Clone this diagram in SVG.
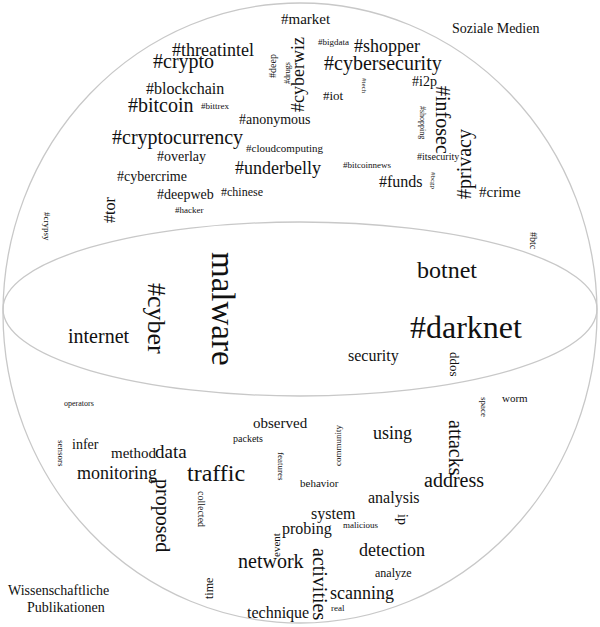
<svg xmlns="http://www.w3.org/2000/svg" width="600" height="627" viewBox="0 0 600 627">
<style>
text{font-family:"Liberation Serif","Times New Roman",serif;fill:#111}
.o{fill:none;stroke:#c8c8c8;stroke-width:1.3}
</style>
<rect width="600" height="627" fill="#fff"/>
<g id="sphere">
<ellipse class="o" cx="300" cy="313" rx="297" ry="310"/>
<ellipse class="o" cx="300" cy="309" rx="297" ry="87"/>
</g>
<g id="labels">
<text x="452" y="33" font-size="14">Soziale Medien</text>
<text x="8" y="595" font-size="14">Wissenschaftliche</text>
<text x="27" y="612" font-size="14">Publikationen</text>
</g>
<g id="social">
<text x="281" y="24" font-size="15">#market</text>
<text x="172" y="56" font-size="18">#threatintel</text>
<text x="153" y="68" font-size="20">#crypto</text>
<text x="318" y="45" font-size="9">#bigdata</text>
<text x="354" y="52" font-size="18">#shopper</text>
<text x="324" y="70" font-size="20">#cybersecurity</text>
<text x="412" y="86" font-size="14">#i2p</text>
<text x="323" y="100" font-size="13">#iot</text>
<text x="146" y="94" font-size="16">#blockchain</text>
<text x="128" y="112" font-size="20">#bitcoin</text>
<text x="201" y="109" font-size="9">#bittrex</text>
<text x="239" y="124" font-size="14">#anonymous</text>
<text x="112" y="144" font-size="20">#cryptocurrency</text>
<text x="246" y="152" font-size="11">#cloudcomputing</text>
<text x="157" y="161" font-size="14">#overlay</text>
<text x="235" y="174" font-size="18">#underbelly</text>
<text x="343" y="168" font-size="9">#bitcoinnews</text>
<text x="417" y="160" font-size="10">#itsecurity</text>
<text x="117" y="181" font-size="14">#cybercrime</text>
<text x="379" y="187" font-size="16">#funds</text>
<text x="479" y="197" font-size="15">#crime</text>
<text x="157" y="199" font-size="14">#deepweb</text>
<text x="221" y="196" font-size="12">#chinese</text>
<text x="175" y="213" font-size="9">#hacker</text>
<text transform="translate(276,78) rotate(-90)" font-size="10">#deep</text>
<text transform="translate(290,84) rotate(-90)" font-size="8">#drugs</text>
<text transform="translate(304,112) rotate(-90)" font-size="18">#cyberwiz</text>
<text transform="translate(362,78) rotate(90)" font-size="7">#tech</text>
<text transform="translate(420,106) rotate(90)" font-size="8">#shopping</text>
<text transform="translate(436,86) rotate(90)" font-size="20">#infosec</text>
<text transform="translate(431,172) rotate(90)" font-size="7">#bcgp</text>
<text transform="translate(471,199) rotate(-90)" font-size="20">#privacy</text>
<text transform="translate(115,223) rotate(-90)" font-size="16">#tor</text>
<text transform="translate(44,212) rotate(90)" font-size="9">#crypsy</text>
<text transform="translate(530,232) rotate(90)" font-size="10">#btc</text>
</g>
<g id="equator">
<text transform="translate(212,252) rotate(90)" font-size="33">malware</text>
<text transform="translate(148,283) rotate(90)" font-size="26">#cyber</text>
<text x="68" y="343" font-size="20">internet</text>
<text x="417" y="278" font-size="24">botnet</text>
<text x="410" y="338" font-size="32">#darknet</text>
<text x="348" y="361" font-size="16">security</text>
<text transform="translate(450,352) rotate(90)" font-size="13">ddos</text>
</g>
<g id="science">
<text x="64" y="406" font-size="8">operators</text>
<text transform="translate(58,440) rotate(90)" font-size="9">sensors</text>
<text x="72" y="449" font-size="14">infer</text>
<text x="111" y="458" font-size="15">method</text>
<text x="155" y="458" font-size="19">data</text>
<text x="77" y="479" font-size="18">monitoring</text>
<text x="187" y="481" font-size="24">traffic</text>
<text transform="translate(156,479) rotate(90)" font-size="20">proposed</text>
<text transform="translate(198,491) rotate(90)" font-size="10">collected</text>
<text transform="translate(278,452) rotate(90)" font-size="9">features</text>
<text transform="translate(341,466) rotate(-90)" font-size="9">community</text>
<text x="253" y="428" font-size="15">observed</text>
<text x="233" y="442" font-size="10">packets</text>
<text x="300" y="487" font-size="11">behavior</text>
<text x="373" y="439" font-size="18">using</text>
<text transform="translate(449,420) rotate(90)" font-size="20">attacks</text>
<text transform="translate(481,397) rotate(90)" font-size="9">space</text>
<text x="502" y="402" font-size="11">worm</text>
<text x="424" y="487" font-size="20">address</text>
<text x="368" y="503" font-size="16">analysis</text>
<text x="311" y="519" font-size="16">system</text>
<text x="343" y="528" font-size="9">malicious</text>
<text transform="translate(398,514) rotate(90)" font-size="14">ip</text>
<text x="282" y="534" font-size="16">probing</text>
<text transform="translate(280,557) rotate(-90)" font-size="11">event</text>
<text x="238" y="568" font-size="20">network</text>
<text transform="translate(313,548) rotate(90)" font-size="20">activities</text>
<text x="359" y="556" font-size="18">detection</text>
<text x="375" y="577" font-size="12">analyze</text>
<text x="330" y="599" font-size="18">scanning</text>
<text x="331" y="611" font-size="9">real</text>
<text x="247" y="618" font-size="16">technique</text>
<text transform="translate(213,599) rotate(-90)" font-size="12">time</text>
</g>
</svg>
